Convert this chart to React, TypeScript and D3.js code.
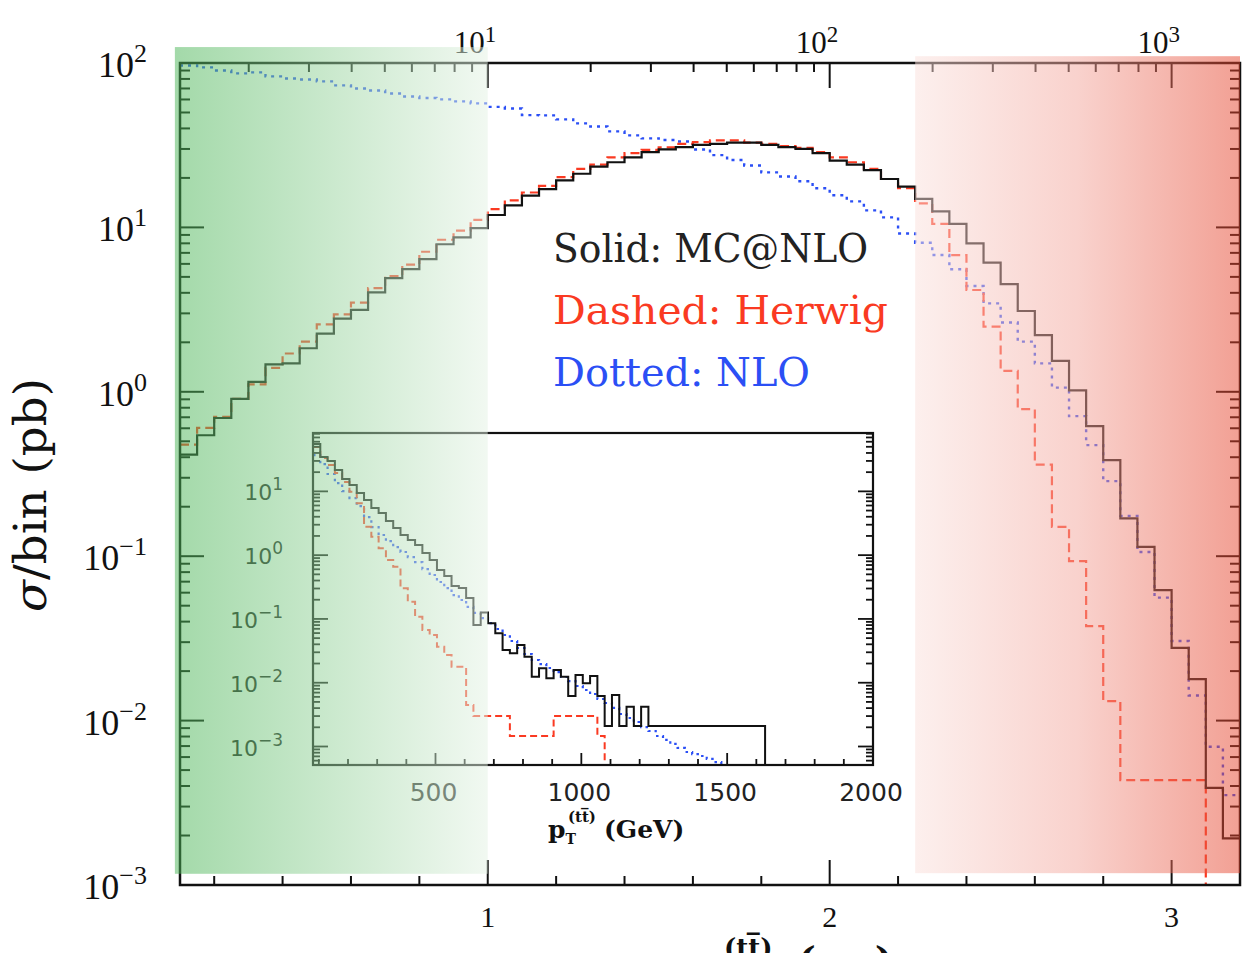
import React from 'react';
import * as d3 from 'd3';

// main plot: bins of 0.05 in log10(pT) starting at 0.1
const binLow = 0.1;
const binWidth = 0.05;

const mcatnlo = [
  0.415, 0.544, 0.693, 0.906, 1.15, 1.47, 1.49, 1.84, 2.26, 2.79,
  3.15, 4.02, 4.91, 5.57, 6.41, 7.9, 8.69, 9.9, 11.9, 13.6,
  15.6, 17.1, 19.3, 21.2, 23.4, 24.9, 26.7, 28.7, 29.8, 30.8,
  31.8, 32.2, 32.8, 32.8, 31.8, 30.8, 30.0, 28.3, 25.5, 24.1,
  22.3, 19.7, 17.7, 14.9, 12.5, 10.5, 8.0, 6.1, 4.52, 3.10,
  2.21, 1.54, 1.02, 0.618, 0.384, 0.170, 0.114, 0.0622, 0.0277, 0.0179,
  0.0039, 0.00192,
];

const herwig = [
  0.477, 0.603, 0.704, 0.906, 1.11, 1.40, 1.71, 2.02, 2.57, 2.96,
  3.49, 4.27, 5.05, 5.93, 7.11, 8.41, 9.55, 11.1, 12.9, 14.6,
  16.3, 17.9, 20.2, 22.7, 24.1, 26.7, 28.3, 29.6, 30.7, 32.2,
  33.0, 33.8, 33.8, 32.8, 32.2, 31.2, 30.5, 28.7, 26.7, 24.9,
  22.7, 19.7, 17.3, 14.0, 10.5, 6.79, 4.16, 2.49, 1.34, 0.785,
  0.361, 0.151, 0.0933, 0.0376, 0.01315, 0.00435, 0.00435, 0.00435, 0.00435, 0.00435,
  0, 0,
];

const nlo = [
  96.6, 94, 90, 86.5, 87.7, 82.9, 80.5, 79.4, 77.3, 73.1,
  70, 68.1, 65.3, 62.6, 61.3, 60.1, 58.4, 56.8, 54.1, 52.9,
  48.2, 48, 45.4, 42.9, 41.1, 38.4, 36.3, 34.8, 34.0, 33.3,
  29.8, 27.5, 25.7, 23.8, 21.6, 20.4, 19.1, 17.3, 15.7, 14.4,
  12.7, 11.5, 9.19, 8.07, 6.79, 5.56, 4.40, 3.45, 2.64, 2.02,
  1.49, 1.06, 0.711, 0.474, 0.286, 0.176, 0.106, 0.056, 0.0305, 0.0142,
  0.00693, 0.00352,
];

// inset: pT bins of 25 GeV starting at 80 GeV
const insetBinLow = 80;
const insetBinWidth = 25;

const insetMcatnlo = [
  55.1, 34.5, 29.9, 21.6, 15.6, 12.6, 9.4, 7.3, 5.5, 4.57,
  3.42, 2.66, 2.07, 1.73, 1.44, 1.08, 0.838, 0.583, 0.470, 0.328,
  0.305, 0.213, 0.0802, 0.126, 0.0853, 0.0594, 0.0326, 0.0289, 0.039, 0.0255,
  0.0124, 0.0168, 0.0117, 0.0158, 0.0124, 0.0062, 0.0132, 0.0098, 0.0127, 0.0062,
  0.00209, 0.0064, 0.00209, 0.0042, 0.00209, 0.0042, 0.00209, 0.00209, 0.00209, 0.00209,
  0.00209, 0.00209, 0.00209, 0.00209, 0.00209, 0.00209, 0.00209, 0.00209, 0.00209, 0.00209,
  0.00209, 0.00209,
];

const insetHerwig = [
  49.4, 33.3, 25.8, 19.4, 14.0, 9.86, 6.49, 2.79, 1.94, 1.28,
  0.838, 0.658, 0.302, 0.186, 0.108, 0.0670, 0.0560, 0.0367, 0.0272, 0.0178,
  0.0178, 0.00447, 0.00301, 0.00301, 0.00301, 0.00301, 0.00301, 0.00146, 0.00146, 0.00146,
  0.00146, 0.00146, 0.00146, 0.00301, 0.00301, 0.00301, 0.00301, 0.00301, 0.00301, 0.00146,
];

const insetNlo = [
  37.1, 26.8, 18.7, 13.5, 10.1, 7.86, 5.88, 3.95, 2.76, 2.07,
  1.66, 1.34, 1.12, 0.934, 0.780, 0.605, 0.488, 0.379, 0.305, 0.237,
  0.198, 0.154, 0.124, 0.103, 0.0862, 0.0695, 0.0560, 0.0451, 0.0350, 0.0282,
  0.0227, 0.0196, 0.0170, 0.0147, 0.0123, 0.0106, 0.00888, 0.00769, 0.00665, 0.00556,
  0.00481, 0.00402, 0.00323, 0.00280, 0.00242, 0.00202, 0.00175, 0.00146, 0.00127, 0.00110,
  0.00095, 0.00082, 0.00076, 0.00071, 0.00064, 0.00057, 0.00051,
];

const legendLabels = ['Solid: MC@NLO', 'Dashed: Herwig', 'Dotted: NLO'];
const yExponents = [2, 1, 0, -1, -2, -3];
const xMajorTicks = [1, 2, 3];
const topExponents = [1, 2, 3];
const insetExponents = [1, 0, -1, -2, -3];
const insetXLabels = [500, 1000, 1500, 2000];

const RED = '#fa3a22';
const BLUE = '#2b4ff5';
const INK = '#111';
const serif = "'Liberation Serif', 'DejaVu Serif', serif";
const slab = "'DejaVu Serif', serif";

function supText(e: number) {
  return e < 0 ? '\u2212' + Math.abs(e) : String(e);
}

export default function App() {
  const frame = { left: 180, right: 1240, top: 63, bottom: 885 };
  const x = d3.scaleLinear().domain([0.1, 3.2]).range([frame.left, frame.right]);
  const xTop = d3.scaleLog().domain([Math.pow(10, 0.1), Math.pow(10, 3.2)]).range([frame.left, frame.right]);
  const y = d3.scaleLog().domain([1e-3, 1e2]).range([frame.bottom, frame.top]);

  const box = { left: 313, right: 873, top: 433, bottom: 765 };
  const ix = d3.scaleLinear().domain([80, 2000]).range([box.left, box.right]);
  const iy = d3.scaleLog().domain([Math.pow(10, -3.29), Math.pow(10, 1.915)]).range([box.bottom, box.top]);

  // step outline of a histogram, optionally dropping to the floor after the last bin
  const hist = (vals: number[], lo: number, w: number, xs: any, ys: any, drop: boolean) => {
    const floor = ys.domain()[0];
    const pts: [number, number][] = vals.map((v, i) => [lo + i * w, v]);
    const end = lo + vals.length * w;
    pts.push([end, vals[vals.length - 1]]);
    if (drop) pts.push([end, floor]);
    return d3.line<[number, number]>()
      .x(d => xs(d[0]))
      .y(d => ys(Math.max(d[1], floor)))
      .curve(d3.curveStepAfter)(pts) as string;
  };

  const yMinor = d3.range(-3, 2).flatMap(d => d3.range(2, 10).map(k => k * Math.pow(10, d)));
  const xMinor = d3.range(1, 16).map(i => +(i * 0.2).toFixed(1)).filter(v => !xMajorTicks.includes(v));
  const topTicks = xTop.ticks();
  const [iyLo, iyHi] = iy.domain();
  const iyMinor = d3.range(-4, 2)
    .flatMap(d => d3.range(2, 10).map(k => k * Math.pow(10, d)))
    .filter(v => v > iyLo && v < iyHi);
  const iyMajor = insetExponents.map(e => Math.pow(10, e));
  const ixMinor = d3.range(100, 2000, 100).filter(v => v % 500 !== 0);

  const legendWidths = [315, 335, 257];
  const legendColors = ['#222', RED, BLUE];

  const greenBand = { x0: 0.085, x1: 1.0, y0: 125, y1: 1.17e-3 };
  const redBand = { x0: 2.25, x1: 3.2, y0: 110, y1: 1.18e-3 };

  return (
    <svg width={1244} height={953} style={{ position: 'absolute', left: 0, top: 0, background: '#fff' }}>
      <defs>
        <clipPath id="mainClip">
          <rect x={frame.left} y={frame.top} width={frame.right - frame.left} height={frame.bottom - frame.top} />
        </clipPath>
        <clipPath id="insetClip">
          <rect x={box.left} y={box.top} width={box.right - box.left} height={box.bottom - box.top} />
        </clipPath>
        <linearGradient id="greenFade" x1="0" y1="0" x2="1" y2="0">
          <stop offset="0%" stopColor="rgb(72,180,84)" />
          <stop offset="100%" stopColor="rgb(228,242,228)" />
        </linearGradient>
        <linearGradient id="redFade" x1="0" y1="0" x2="1" y2="0">
          <stop offset="0%" stopColor="rgb(250,224,220)" />
          <stop offset="50%" stopColor="rgb(243,165,155)" />
          <stop offset="100%" stopColor="rgb(229,66,42)" />
        </linearGradient>
      </defs>

      {/* main histograms */}
      <g clipPath="url(#mainClip)" fill="none">
        <path d={hist(nlo, binLow, binWidth, x, y, false)} stroke={BLUE} strokeWidth={2.4} strokeDasharray="3 5" />
        <path d={hist(herwig, binLow, binWidth, x, y, false)} stroke={RED} strokeWidth={2.2} strokeDasharray="9 5" />
        <path d={hist(mcatnlo, binLow, binWidth, x, y, false)} stroke={INK} strokeWidth={2.2} />
      </g>

      {/* main frame and ticks */}
      <rect x={frame.left} y={frame.top} width={frame.right - frame.left} height={frame.bottom - frame.top}
        fill="none" stroke={INK} strokeWidth={2.5} />
      <g stroke={INK} strokeWidth={2}>
        {yExponents.map(e => (
          <g key={'ym' + e}>
            <line x1={frame.left} x2={frame.left + 24} y1={y(Math.pow(10, e))} y2={y(Math.pow(10, e))} />
            <line x1={frame.right} x2={frame.right - 24} y1={y(Math.pow(10, e))} y2={y(Math.pow(10, e))} />
          </g>
        ))}
        {yMinor.map((v, i) => (
          <g key={'yn' + i}>
            <line x1={frame.left} x2={frame.left + 10} y1={y(v)} y2={y(v)} />
            <line x1={frame.right} x2={frame.right - 10} y1={y(v)} y2={y(v)} />
          </g>
        ))}
        {xMajorTicks.map(v => (
          <line key={'xm' + v} x1={x(v)} x2={x(v)} y1={frame.bottom} y2={frame.bottom - 25} />
        ))}
        {xMinor.map(v => (
          <line key={'xn' + v} x1={x(v)} x2={x(v)} y1={frame.bottom} y2={frame.bottom - 9} />
        ))}
        {topTicks.map(t => {
          const major = Math.abs(Math.log10(t) - Math.round(Math.log10(t))) < 1e-9;
          return <line key={'t' + t} x1={xTop(t)} x2={xTop(t)} y1={frame.top} y2={frame.top + (major ? 25 : 9)} />;
        })}
      </g>

      {/* main tick labels */}
      <g fontFamily={serif} fill={INK}>
        {yExponents.map(e => (
          <text key={'yl' + e} x={147} y={y(Math.pow(10, e)) + 14} textAnchor="end" fontSize={36}>
            10<tspan dy={-15} fontSize={26}>{supText(e)}</tspan>
          </text>
        ))}
        {xMajorTicks.map(v => (
          <text key={'xl' + v} x={x(v)} y={927} textAnchor="middle" fontSize={30}>{v}</text>
        ))}
        {topExponents.map(e => (
          <g key={'tl' + e}>
            <text x={xTop(Math.pow(10, e)) - 3} y={53} textAnchor="end" fontSize={31}>10</text>
            <text x={xTop(Math.pow(10, e)) - 3} y={42} fontSize={23}>{e}</text>
          </g>
        ))}
      </g>

      {/* axis titles */}
      <text transform="translate(46,495) rotate(-90)" textAnchor="middle" fontFamily={slab}
        fontSize={44} textLength={234} lengthAdjust="spacingAndGlyphs" fill={INK}>
        <tspan fontStyle="italic">σ</tspan>/bin (pb)
      </text>
      {/* bottom title: only its top edge shows inside the picture, as in the original */}
      <text x={683} y={979} fontFamily={slab} fontWeight="bold" fontSize={34} fill={INK}>
        p<tspan dy={8} fontSize={20}>T</tspan>
        <tspan x={724} dy={-30} fontSize={26}>(tt̅)</tspan>
        <tspan x={797} dy={18} fontSize={40}>(</tspan>
        <tspan fontSize={26}>GeV</tspan>
        <tspan fontSize={40}>)</tspan>
      </text>

      {/* legend */}
      <g fontFamily={slab} fontSize={40}>
        {legendLabels.map((lab, i) => (
          <text key={lab} x={553} y={262 + i * 62} fill={legendColors[i]}
            textLength={legendWidths[i]} lengthAdjust="spacingAndGlyphs">{lab}</text>
        ))}
      </g>

      {/* inset */}
      <rect x={box.left} y={box.top} width={box.right - box.left} height={box.bottom - box.top} fill="#fff" />
      <g clipPath="url(#insetClip)" fill="none">
        <path d={hist(insetNlo, insetBinLow, insetBinWidth, ix, iy, false)} stroke={BLUE} strokeWidth={2.2} strokeDasharray="2.5 4" />
        <path d={hist(insetHerwig, insetBinLow, insetBinWidth, ix, iy, true)} stroke={RED} strokeWidth={2} strokeDasharray="7 4" />
        <path d={hist(insetMcatnlo, insetBinLow, insetBinWidth, ix, iy, true)} stroke={INK} strokeWidth={2} />
      </g>
      <rect x={box.left} y={box.top} width={box.right - box.left} height={box.bottom - box.top}
        fill="none" stroke={INK} strokeWidth={2.2} />
      <g stroke={INK} strokeWidth={1.8}>
        {iyMajor.map(v => (
          <g key={'im' + v}>
            <line x1={box.left} x2={box.left + 15} y1={iy(v)} y2={iy(v)} />
            <line x1={box.right} x2={box.right - 15} y1={iy(v)} y2={iy(v)} />
          </g>
        ))}
        {iyMinor.map((v, i) => (
          <g key={'in' + i}>
            <line x1={box.left} x2={box.left + 7} y1={iy(v)} y2={iy(v)} />
            <line x1={box.right} x2={box.right - 7} y1={iy(v)} y2={iy(v)} />
          </g>
        ))}
        {insetXLabels.map(v => (
          <line key={'ixm' + v} x1={ix(v)} x2={ix(v)} y1={box.bottom} y2={box.bottom - 12} />
        ))}
        {ixMinor.map(v => (
          <line key={'ixn' + v} x1={ix(v)} x2={ix(v)} y1={box.bottom} y2={box.bottom - 6} />
        ))}
      </g>
      <g fontFamily="'DejaVu Sans', sans-serif" fill="#222">
        {insetExponents.map(e => (
          <text key={'iyl' + e} x={283} y={iy(Math.pow(10, e)) + 9} textAnchor="end" fontSize={22}>
            10<tspan dy={-10} fontSize={17}>{supText(e)}</tspan>
          </text>
        ))}
        {insetXLabels.map(v => (
          <text key={'ixl' + v} x={ix(v) - 2} y={801} textAnchor="middle" fontSize={25}>{v}</text>
        ))}
      </g>
      <text x={548} y={838} fontFamily={slab} fontWeight="bold" fontSize={25} fill={INK}>
        p<tspan dy={6} fontSize={14}>T</tspan><tspan dx={-8} dy={-22} fontSize={15}>(tt̅)</tspan>
        <tspan dy={16} dx={8}>(GeV)</tspan>
      </text>

      {/* shaded bands on top */}
      <rect x={x(greenBand.x0)} y={y(greenBand.y0)} width={x(greenBand.x1) - x(greenBand.x0)}
        height={y(greenBand.y1) - y(greenBand.y0)} fill="url(#greenFade)" fillOpacity={0.5} />
      <rect x={x(redBand.x0)} y={y(redBand.y0)} width={x(redBand.x1) - x(redBand.x0)}
        height={y(redBand.y1) - y(redBand.y0)} fill="url(#redFade)" fillOpacity={0.5} />
    </svg>
  );
}
